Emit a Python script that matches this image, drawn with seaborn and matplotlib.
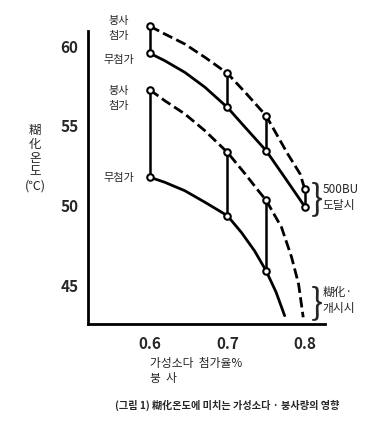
import matplotlib
matplotlib.use("Agg")
import matplotlib.pyplot as plt
import numpy as np
import pandas as pd
import seaborn as sns

# ============ data ============
x_marks = [0.6, 0.7, 0.75, 0.8]
upper_borax = [61.17, 58.23, 55.58, 51.0]     # 붕사 첨가 (500BU 도달시)
upper_plain = [59.48, 56.1, 53.4, 49.9]       # 무첨가 (500BU 도달시)
x_marks_low = [0.6, 0.7, 0.75]
lower_borax = [57.19, 53.29, 50.3]            # 붕사 첨가 (糊化 개시시)
lower_plain = [51.73, 49.33, 45.89]           # 무첨가 (糊化 개시시)

# curve traces (incl. unmarked points)
ub_x = [0.6, 0.619, 0.645, 0.671, 0.7, 0.723, 0.75, 0.778, 0.794, 0.8]
ub_y = [61.17, 60.69, 60.06, 59.23, 58.23, 57.04, 55.58, 53.19, 51.94, 51.0]
up_x = [0.6, 0.619, 0.645, 0.671, 0.7, 0.723, 0.75, 0.774, 0.8]
up_y = [59.48, 59.02, 58.29, 57.36, 56.1, 54.85, 53.4, 51.73, 49.9]
lb_x = [0.6, 0.619, 0.645, 0.671, 0.7, 0.723, 0.74, 0.75, 0.77, 0.783, 0.792, 0.798]
lb_y = [57.19, 56.52, 55.69, 54.64, 53.29, 51.94, 50.89, 50.3, 48.6, 46.73, 45.06, 42.98]
lp_x = [0.6, 0.619, 0.645, 0.671, 0.7, 0.718, 0.735, 0.75, 0.763, 0.774]
lp_y = [51.73, 51.42, 50.89, 50.17, 49.33, 48.29, 47.14, 45.89, 44.54, 43.08]

x_ticks = [0.6, 0.7, 0.8]
y_ticks = [45, 50, 55, 60]

sns.set_theme(style="white")
plt.rcParams["font.family"] = ["Noto Sans CJK KR", "DejaVu Sans"]

fig = plt.figure(figsize=(3.9, 4.39), dpi=100)
ax = fig.add_axes([0.226, 0.2597, 0.607, 0.6938])

curves = [(ub_x, ub_y, "--"), (up_x, up_y, "-"), (lb_x, lb_y, "--"), (lp_x, lp_y, "-")]
for cx, cy, ls in curves:
    sns.lineplot(x=cx, y=cy, ax=ax, color="black", linewidth=2.0,
                 linestyle=ls, sort=False)

# vertical connectors
ax.vlines(x_marks, upper_plain, upper_borax, color="black", linewidth=1.8)
ax.vlines(x_marks_low, lower_plain, lower_borax, color="black", linewidth=1.8)

pts = pd.DataFrame({
    "x": x_marks * 2 + x_marks_low * 2,
    "y": upper_borax + upper_plain + lower_borax + lower_plain,
})
sns.scatterplot(data=pts, x="x", y="y", ax=ax, s=22, facecolor="white",
                edgecolor="black", linewidth=1.5, zorder=5)

ax.set_xlim(0.52, 0.826)
ax.set_ylim(42.56, 61.6)
ax.spines["left"].set_bounds(42.56, 60.9)
ax.set_xticks(x_ticks)
ax.set_xticklabels([str(t) for t in x_ticks], fontsize=11, fontweight="bold")
ax.set_yticks(y_ticks)
ax.set_yticklabels([str(t) for t in y_ticks], fontsize=11, fontweight="bold")
ax.tick_params(axis="x", direction="in", length=4, width=1.5, pad=8)
ax.tick_params(axis="y", direction="out", length=4, width=1.5, pad=3)
ax.spines[["top", "right"]].set_visible(False)
ax.spines[["left", "bottom"]].set_linewidth(2.0)
ax.spines[["left", "bottom"]].set_color("black")
ax.set_xlabel("")
ax.set_ylabel("")

# labels at the left of the points
kw = dict(fontsize=8, ha="center", va="center", linespacing=1.6)
ax.text(0.56, 61.1, "붕사\n첨가", **kw)
ax.text(0.56, 59.1, "무첨가", **kw)
ax.text(0.56, 56.7, "붕사\n첨가", **kw)
ax.text(0.56, 51.75, "무첨가", **kw)

# braces + right labels
ax.text(0.816, 50.45, "}", fontsize=26, ha="center", va="center",
        fontweight="light", clip_on=False)
ax.text(0.823, 50.5, "500BU\n도달시", fontsize=8.5, ha="left", va="center",
        linespacing=1.3, clip_on=False)
ax.text(0.816, 43.95, "}", fontsize=26, ha="center", va="center",
        fontweight="light", clip_on=False)
ax.text(0.823, 44.1, "糊化·\n개시시", fontsize=8.5, ha="left", va="center",
        linespacing=1.3, clip_on=False)

# y label (stacked)
fig.text(0.09, 0.64, "糊\n化\n온\n도\n(℃)", fontsize=9, ha="center", va="center",
         linespacing=1.1)

# x label
fig.text(0.385, 0.172, "가성소다  첨가율%", fontsize=8.5, ha="left", va="center")
fig.text(0.385, 0.138, "붕  사", fontsize=8.5, ha="left", va="center")

# caption
fig.text(0.295, 0.077, "(그림 1) 糊化온도에 미치는 가성소다 · 붕사량의 영향",
         fontsize=7.3, fontweight="bold", ha="left", va="center")

fig.savefig("out.png", dpi=100)
